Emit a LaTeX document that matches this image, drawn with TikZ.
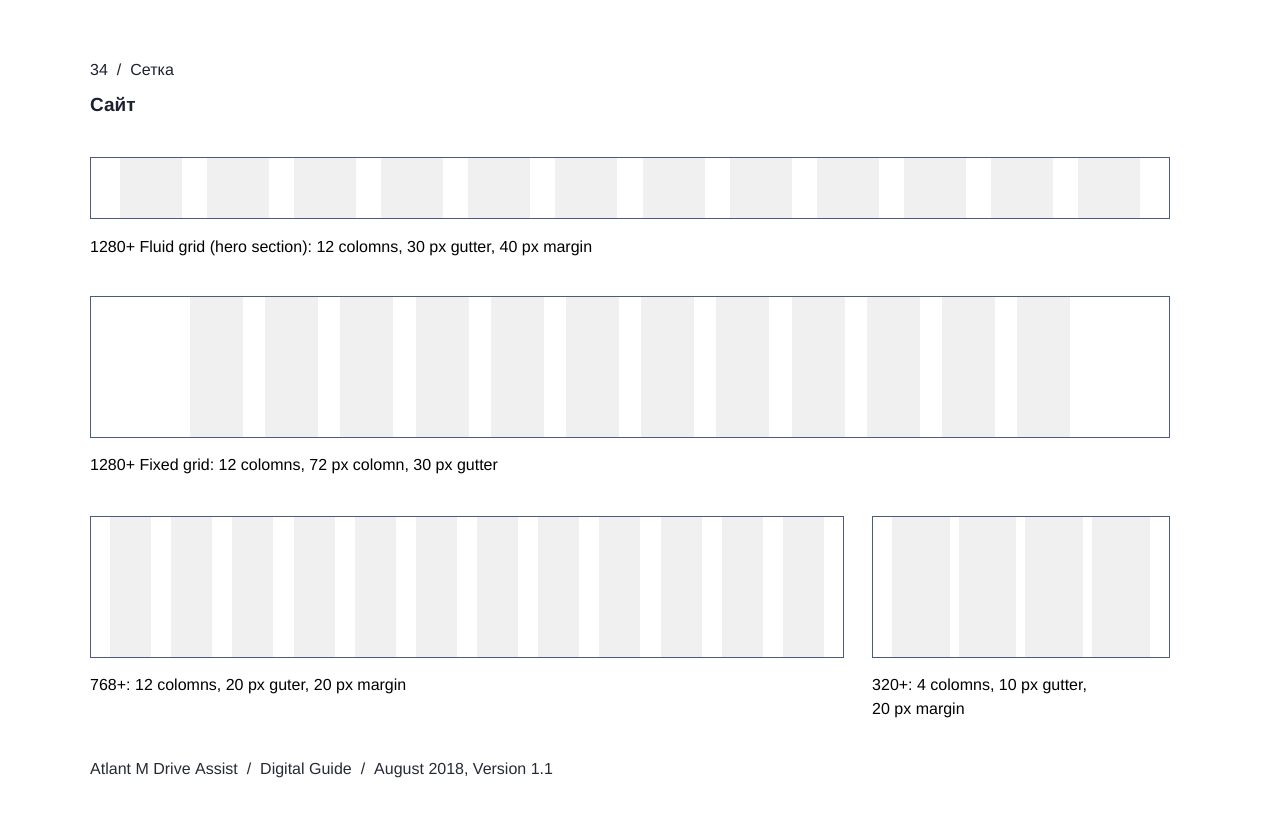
\documentclass[tikz,border=0pt]{standalone}
\usepackage{fontspec}
\setmainfont{Liberation Sans}
\frenchspacing
\definecolor{framec}{HTML}{4B5B7B}
\definecolor{colc}{HTML}{F0F0F0}
\definecolor{headc}{HTML}{1E2230}
\definecolor{footc}{HTML}{252A36}
\tikzset{
  gridframe/.style={draw=framec, line width=1pt, inner sep=0pt, outer sep=0pt, anchor=north west},
  gridcol/.style={fill=colc},
  caption/.style={anchor=base west, inner sep=0pt, text=black, font=\fontsize{16}{19}\selectfont},
  headtxt/.style={anchor=base west, inner sep=0pt, text=headc, font=\fontsize{16}{19}\selectfont},
  titletxt/.style={anchor=base west, inner sep=0pt, text=headc, font=\fontsize{19}{23}\selectfont\bfseries},
  foottxt/.style={anchor=base west, inner sep=0pt, text=footc, font=\fontsize{16}{19}\selectfont}
}
\begin{document}
\begin{tikzpicture}[x=1pt,y=-1pt]
\useasboundingbox[fill=white] (0,0) rectangle (1280,840);

% header
\node[headtxt] (crumb) at (90,76) {34\hspace{9pt}/\hspace{9pt}Сетка};
\node[titletxt] (title) at (90,112) {Сайт};

% grid 1: fluid
\foreach \i in {0,...,11} \fill[gridcol] ({120+\i*87.09},158) rectangle ++(62,60);
\node[gridframe, minimum width=1079pt, minimum height=61pt] (fluid) at (90.5,157.5) {};
\node[caption] (cap1) at (90,252) {1280+ Fluid grid (hero section): 12 colomns, 30 px gutter, 40 px margin};

% grid 2: fixed
\foreach \i in {0,...,11} \fill[gridcol] ({190+\i*75.2},297) rectangle ++(53,140);
\node[gridframe, minimum width=1079pt, minimum height=141pt] (fixed) at (90.5,296.5) {};
\node[caption] (cap2) at (90,470) {1280+ Fixed grid: 12 colomns, 72 px colomn, 30 px gutter};

% grid 3: 768+
\foreach \i in {0,...,11} \fill[gridcol] ({110+\i*61.18},517) rectangle ++(41,140);
\node[gridframe, minimum width=753pt, minimum height=141pt] (tablet) at (90.5,516.5) {};
\node[caption] (cap3) at (90,690) {768+: 12 colomns, 20 px guter, 20 px margin};

% grid 4: 320+
\foreach \i in {0,...,3} \fill[gridcol] ({892+\i*66.7},517) rectangle ++(57.5,140);
\node[gridframe, minimum width=297pt, minimum height=141pt] (mobile) at (872.5,516.5) {};
\node[caption] (cap4a) at (872,690) {320+: 4 colomns, 10 px gutter,};
\node[caption] (cap4b) at (872,714) {20 px margin};

% footer
\node[foottxt] (foot) at (90,774) {Atlant M Drive Assist\hspace{9pt}/\hspace{9pt}Digital Guide\hspace{9pt}/\hspace{9pt}August 2018, Version 1.1};
\end{tikzpicture}
\end{document}
